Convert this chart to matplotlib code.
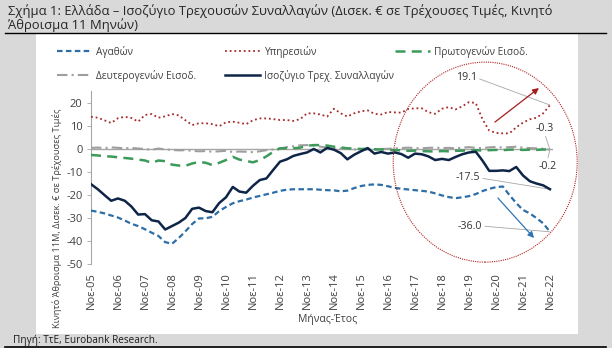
import matplotlib
matplotlib.use('Agg')
import matplotlib.pyplot as plt
import matplotlib.dates as mdates
from matplotlib.patches import Rectangle, Ellipse
from matplotlib.lines import Line2D
import pandas as pd

plt.rcParams['font.family'] = ['Open Sans', 'DejaVu Sans']
plt.rcParams['axes.unicode_minus'] = False

# ---------------- data (quarterly readings, bn EUR, 11M rolling sum) ----------------
dates = pd.date_range('2005-11-01', '2022-11-01', freq='3MS')

goods = [-26.8, -27.3, -28.0, -28.9, -29.8, -31.1, -32.5, -33.5, -34.9, -36.4,
         -37.8, -40.5, -41.2, -38.7, -35.8, -32.6, -30.2, -30.1, -29.5, -27.0,
         -25.2, -23.6, -22.7, -22.0, -21.1, -20.4, -19.7, -19.0, -18.2, -17.7,
         -17.5, -17.5, -17.5, -17.5, -17.7, -17.9, -18.0, -18.4, -18.1, -17.0,
         -16.1, -15.6, -15.4, -15.6, -16.2, -16.9, -17.3, -17.6, -17.9, -18.2,
         -18.5, -19.3, -20.2, -20.9, -21.4, -21.0, -20.5, -19.6, -18.3, -17.3,
         -16.6, -16.3, -20.0, -23.5, -26.5, -28.0, -30.0, -32.3, -36.0]

services = [14.0, 13.6, 12.5, 11.3, 13.4, 14.0, 13.5, 11.9, 14.8, 15.2,
            13.6, 14.2, 15.2, 14.6, 12.5, 10.4, 11.2, 11.2, 10.8, 9.9,
            11.6, 11.9, 11.4, 10.8, 12.5, 13.3, 13.3, 13.0, 12.6, 12.6,
            12.2, 13.0, 15.5, 15.5, 15.0, 14.1, 17.5, 15.5, 14.1, 15.5,
            16.4, 16.8, 15.3, 15.0, 16.1, 15.9, 15.8, 17.4, 17.7, 17.7,
            16.0, 15.3, 17.5, 18.2, 17.2, 18.5, 20.4, 20.0, 13.0, 8.0,
            7.0, 6.8, 6.8, 9.4, 11.5, 12.9, 13.6, 15.5, 19.1]

primary = [-2.6, -2.8, -3.1, -3.3, -3.6, -3.9, -4.2, -4.6, -5.0, -6.0,
           -5.0, -5.3, -6.8, -7.2, -7.3, -6.3, -5.6, -6.0, -7.0, -6.0,
           -4.8, -3.4, -4.6, -5.2, -5.8, -4.8, -3.2, -1.2, 0.3, 0.3,
           0.3, 0.6, 1.4, 1.7, 1.7, 1.5, 1.0, 0.7, 0.3, 0.2,
           0.0, 0.1, -0.1, -0.2, -0.3, -0.5, -0.6, -0.8, -0.7, -0.9,
           -1.0, -1.1, -0.9, -1.0, -0.8, -0.7, -0.6, -0.5, -0.7, -0.5,
           -0.4, -0.5, -0.3, -0.2, -0.4, -0.3, -0.4, -0.2, -0.2]

secondary = [0.5, 0.6, 0.4, 0.7, 0.5, 0.3, 0.5, 0.2, 0.0, -0.3,
             0.2, -0.2, -0.4, -0.6, -0.5, -0.8, -1.0, -0.9, -1.2, -1.0,
             -0.8, -1.3, -1.1, -1.2, -1.4, -1.0, -0.5, -0.2, 0.2, 0.8,
             1.2, 1.6, 1.7, 1.5, 1.0, 0.6, 0.3, 0.2, 0.1, -0.2,
             -0.3, -0.2, -0.4, 0.0, 0.1, 0.3, 0.4, 0.6, 0.4, 0.3,
             0.5, 0.6, 0.4, 0.5, 0.3, 0.6, 0.8, 0.5, 0.4, 0.7,
             0.9, 0.6, 0.8, 1.0, 0.6, 0.4, 0.3, 0.1, -0.3]

current = [-15.3, -17.5, -20.0, -22.5, -21.5, -22.5, -25.0, -28.5, -28.3, -31.0,
           -31.5, -35.0, -33.5, -32.0, -30.0, -26.0, -25.5, -27.0, -27.5, -23.5,
           -21.0, -16.5, -18.5, -19.0, -16.0, -13.5, -12.8, -9.1, -5.5, -4.5,
           -3.0, -2.2, -1.5, 0.0, -1.5, 0.5, -0.3, -1.8, -4.5, -2.5,
           -1.0, 0.4, -2.0, -1.3, -2.0, -1.5, -2.2, -3.8, -2.0, -2.3,
           -3.2, -4.8, -4.3, -4.8, -3.5, -2.3, -1.5, -1.2, -5.0, -9.5,
           -9.5, -9.3, -9.6, -7.8, -11.5, -14.0, -15.0, -15.8, -17.5]

series_labels = ['Αγαθών', 'Υπηρεσιών', 'Πρωτογενών Εισοδ.',
                 'Δευτερογενών Εισοδ.', 'Ισοζύγιο Τρεχ. Συναλλαγών']

tick_dates = pd.date_range('2005-11-01', '2022-11-01', freq='12MS')
tick_labels = ['Νοε-05', 'Νοε-06', 'Νοε-07', 'Νοε-08', 'Νοε-09', 'Νοε-10',
               'Νοε-11', 'Νοε-12', 'Νοε-13', 'Νοε-14', 'Νοε-15', 'Νοε-16',
               'Νοε-17', 'Νοε-18', 'Νοε-19', 'Νοε-20', 'Νοε-21', 'Νοε-22']
y_ticks = [-50, -40, -30, -20, -10, 0, 10, 20]

# ---------------- figure ----------------
W, H = 612, 348
fig = plt.figure(figsize=(W / 100, H / 100), dpi=100)
fig.patch.set_facecolor('#d9d9d9')

def fx(x):
    return x / W

def fy(y):
    return 1 - y / H

# white panel & rules
fig.patches.append(Rectangle((fx(36), fy(334)), fx(578) - fx(36), fy(33) - fy(334),
                             transform=fig.transFigure, facecolor='white',
                             edgecolor='none', zorder=-5))
fig.lines.append(Line2D([fx(5), fx(606)], [fy(33), fy(33)], transform=fig.transFigure,
                        color='black', lw=1.0))
fig.lines.append(Line2D([fx(5), fx(606)], [fy(346.5), fy(346.5)], transform=fig.transFigure,
                        color='black', lw=1.2))

fig.text(fx(8), fy(11), 'Σχήμα 1: Ελλάδα – Ισοζύγιο Τρεχουσών Συναλλαγών (Δισεκ. € σε Τρέχουσες Τιμές, Κινητό',
         fontsize=9.4, color='#262626', va='center', ha='left')
fig.text(fx(8), fy(25), 'Άθροισμα 11 Μηνών)', fontsize=9.4, color='#262626', va='center', ha='left')
fig.text(fx(13), fy(340), 'Πηγή: ΤτΕ, Eurobank Research.', fontsize=7.2, color='#1a1a1a',
         va='center', ha='left')

ax = fig.add_axes([fx(91), fy(264), fx(553) - fx(91), fy(91.5) - fy(264)])
ax.set_facecolor('none')
ax.set_zorder(2)

ax.axhline(0, color='#a6a6a6', lw=1.0, zorder=1)

h_sec, = ax.plot(dates, secondary, color='#9e9e9e', lw=1.5,
                 linestyle=(0, (5, 2, 1, 2)), zorder=2)
h_pri, = ax.plot(dates, primary, color='#3c9a5a', lw=1.8,
                 linestyle=(0, (4, 2.5)), zorder=3)
h_ser, = ax.plot(dates, services, color='#a52a2a', lw=1.3,
                 linestyle=(0, (1, 1.6)), zorder=3)
h_goo, = ax.plot(dates, goods, color='#2e6ea6', lw=1.6,
                 linestyle=(0, (2.5, 1.5)), zorder=3)
h_cur, = ax.plot(dates, current, color='#0e2547', lw=1.8, zorder=4)

ax.set_xlim(pd.Timestamp('2005-11-01'), pd.Timestamp('2022-12-12'))
ax.set_ylim(-50, 25)
ax.set_yticks(y_ticks)
ax.set_yticklabels([str(v) for v in y_ticks])
ax.set_xticks(tick_dates)
ax.set_xticklabels(tick_labels, rotation=90)
ax.tick_params(axis='x', length=0, labelsize=8, labelcolor='#404040', pad=6)
ax.tick_params(axis='y', length=3, width=0.6, color='#a6a6a6', labelsize=8,
               labelcolor='#404040', pad=3)
for s in ['top', 'right', 'bottom']:
    ax.spines[s].set_visible(False)
ax.spines['left'].set_color('#a6a6a6')
ax.spines['left'].set_linewidth(0.8)

fig.text(fx(57), fy(218), 'Κινητό Άθροισμα 11Μ, Δισεκ. € σε Τρέχουσες Τιμές',
         rotation=90, fontsize=6.7, color='#404040', ha='center', va='center')
fig.text(fx(328), fy(319), 'Μήνας-Έτος', fontsize=7.5, color='#404040',
         ha='center', va='center')

# legends (three columns)
leg_kw = dict(frameon=False, fontsize=7.3, handlelength=3.5, handletextpad=0.35,
              labelspacing=1.15, borderpad=0, borderaxespad=0, loc='upper left')
l1 = fig.legend([h_goo, h_sec], [series_labels[0], series_labels[3]],
                bbox_to_anchor=(fx(57), fy(46)), **leg_kw)
l2 = fig.legend([h_ser, h_cur], [series_labels[1], series_labels[4]],
                bbox_to_anchor=(fx(225), fy(46)), **leg_kw)
l3 = fig.legend([h_pri], [series_labels[2]],
                bbox_to_anchor=(fx(395), fy(46)), **leg_kw)
for lg in (l1, l2, l3):
    for t in lg.get_texts():
        t.set_color('#404040')

# annotations
def ydate(t):
    return pd.Timestamp('2005-11-01') + pd.Timedelta(days=365.25 * t)

end = dates[-1]
lead = dict(arrowstyle='-', color='#a6a6a6', lw=0.6, shrinkA=0, shrinkB=0)
ann_kw = dict(fontsize=7.7, color='#333333', ha='center', va='center',
              annotation_clip=False)
ax.annotate(f'{services[-1]:.1f}', xy=(end, services[-1]), xytext=(ydate(13.9), 30.9),
            arrowprops=dict(relpos=(1, 0.5), **lead), **ann_kw)
ax.annotate(f'{secondary[-1]:.1f}', xy=(end, secondary[-1]), xytext=(ydate(16.8), 9.1),
            arrowprops=dict(relpos=(0.5, 0), **lead), **ann_kw)
ax.annotate(f'{primary[-1]:.1f}', xy=(end, primary[-1]), xytext=(ydate(16.9), -7.4),
            arrowprops=dict(relpos=(0.5, 1), **lead), **ann_kw)
ax.annotate(f'{current[-1]:.1f}', xy=(end, current[-1]), xytext=(ydate(13.96), -12.6),
            arrowprops=dict(relpos=(1, 0.5), **lead), **ann_kw)
ax.annotate(f'{goods[-1]:.1f}', xy=(end, goods[-1]), xytext=(ydate(14.04), -33.5),
            arrowprops=dict(relpos=(1, 0.5), **lead), **ann_kw)

ax.annotate('', xy=(ydate(16.59), 26.5), xytext=(ydate(14.96), 11.7),
            arrowprops=dict(arrowstyle='-|>', color='#a51c1c', lw=0.9,
                            mutation_scale=9, shrinkA=0, shrinkB=0),
            annotation_clip=False)
ax.annotate('', xy=(ydate(16.41), -38.7), xytext=(ydate(15.07), -21.3),
            arrowprops=dict(arrowstyle='-|>', color='#2e75b6', lw=0.9,
                            mutation_scale=9, shrinkA=0, shrinkB=0),
            annotation_clip=False)

# highlight circle
cx = mdates.date2num(ydate(14.6))
ell = Ellipse((cx, -5.7), width=365.25 * 184 / 27.0, height=200 / 2.3,
              transform=ax.transData, fill=False, edgecolor='#b22222', lw=0.8,
              linestyle=(0, (1, 1)), clip_on=False, zorder=5)
ax.add_patch(ell)

fig.savefig('out.png', dpi=100, facecolor=fig.get_facecolor())
